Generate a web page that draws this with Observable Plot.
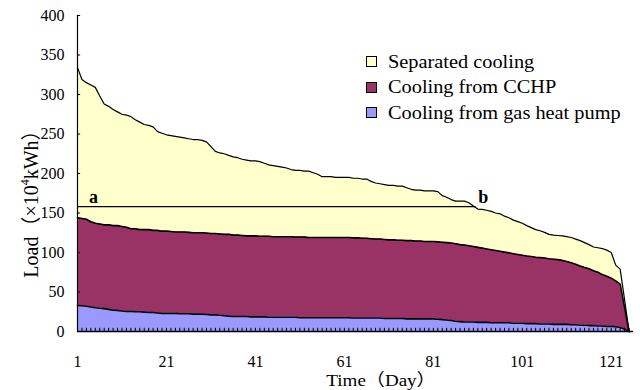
<!DOCTYPE html>
<html>
<head>
<meta charset="utf-8">
<script src="https://cdn.jsdelivr.net/npm/d3@7"></script>
<script src="https://cdn.jsdelivr.net/npm/@observablehq/plot@0.6"></script>
<style>
  html, body { margin: 0; padding: 0; background: #fff; }
  #wrap { position: relative; width: 640px; height: 390px; font-family: "Liberation Serif", "Noto Sans CJK SC", serif; overflow: hidden; }
  #chart svg text { font-family: "Liberation Serif", "Noto Sans CJK SC", serif !important; }
  #legend { position: absolute; left: 366px; top: 49px; font-size: 19px; color: #000; }
  #legend .row { display: flex; align-items: center; height: 25.5px; white-space: nowrap; }
  #legend .sw { width: 9px; height: 9px; border: 1px solid #000; margin-right: 11px; flex: none; }
  #legend .txt { display: inline-block; transform: scaleX(1.07); transform-origin: left center; }
  #ytitle { position: absolute; left: 29px; top: 199px; transform: translate(-50%, -50%) rotate(-90deg); font-size: 20px; white-space: nowrap; }
  #ytitle sup { font-size: 12px; position: relative; top: -1px; }
  #xtitle { position: absolute; left: 381px; top: 380px; transform: translate(-50%, -50%) scaleX(1.12); font-size: 17px; line-height: 17px; white-space: nowrap; }
</style>
</head>
<body>
<div id="wrap">
  <div id="chart"></div>
  <div id="legend"></div>
  <div id="ytitle">Load（×10<sup>4</sup>kWh）</div>
  <div id="xtitle">Time（Day）</div>
</div>
<script>
// ---- data ----
const days = d3.range(1, 126); // day 1 .. 125

// top of the stack: total cooling load
const totalLoad = [334,319,315,312,309,298,288,285,281,278,
  275,274,272,268,265,262,261,259,253,251,
  249,248,247,246,245,244,243,243,242,240,
  234,228,226,225,223,221,220,218,217,216,
  216,215,213,211,210,209,208,207,205,204,
  204,203,203,201,199,196,196,196,195,195,
  195,195,194,194,193,193,190,188,187,186,
  185,185,184,184,182,180,179,179,178,178,
  178,177,172,170,167,165,165,165,163,159,
  155,154.5,153.5,152,150,149,146,144,141,139,
  137,134,131.5,129,127.5,125.5,123,122,121.5,121,
  120,119,117,115,112.5,110,107,106,105,103,
  100,84,79,40,0];

// top of the CCHP layer (gas heat pump + CCHP)
const cchpTopLoad = [144,143,142,139,137,136,135,135,134,134,
  133,132,130,130,129,129,129,128,128,127,
  127,126.5,126,126,126,125.5,125,125,125,124.5,
  124,124,123.5,123,123,122,122,121.5,121,121,
  121,120.5,120.5,120.5,120,120,120,120,120,119.5,
  119.5,119.5,119,119,119,119,119,119,119,119,
  119,119,118.5,118.5,118,118,117.5,117,117,116.5,
  116,116,115.5,115.5,115,115,114.5,114.5,114,114,
  114,113.5,113,112.5,112,111,110,109.5,108.5,107.5,
  106.5,105.5,104.5,103.5,102.5,101.5,100.5,99.5,98.5,97.5,
  96.5,95.5,95,94,93.5,93,92,91.5,91,90,
  88.5,87,85,83,81,79.5,77,75,72,70,
  67.5,64,60,30,0];

// cooling from gas heat pump (bottom layer)
const gasLoad = [33,32.5,32,31,30,29.5,29,28,27,26.5,
  26,25.5,25.5,25,25,24.5,24,24,23.5,23,
  23,23,23,22.5,22.5,22.5,22,22,22,21.5,
  21,21,20.5,20,19.5,19,19,19,19,18.5,
  18.5,18.5,18.5,18,18,18,18,18,18,18,
  17.5,17.5,17.5,17.5,17.5,17.5,17.5,17.5,17.5,17.5,
  17.5,17.5,17,17,17,17,17,17,17,16.5,
  16.5,16.5,16.5,16.5,16,16,16,16,16,16,
  16,15.5,15,14.5,14,13,12.5,12,12,12,
  11.5,11.5,11.5,11,11,11,11,11,10.5,10.5,
  10.5,10,10,10,9.5,9.5,9.5,9,9,9,
  9,8.5,8.5,8,8,7.5,7.5,7,7,6.5,
  6.5,6,5,3,0];

const seriesNames = ["Separated cooling", "Cooling from CCHP", "Cooling from gas heat pump"];
const seriesColors = ["#FFFFCC", "#993366", "#9999FF"];

const xTicks = [1, 21, 41, 61, 81, 101, 121];
const yTicks = [0, 50, 100, 150, 200, 250, 300, 350, 400];

// reference line a–b
const abPoints = [{label: "a", day: 1, load: 158}, {label: "b", day: 90.4, load: 158}];

// ---- table ----
const rows = days.map((d, i) => ({day: d, total: totalLoad[i], cchpTop: cchpTopLoad[i], gas: gasLoad[i]}));

const chart = Plot.plot({
  width: 640,
  height: 390,
  marginLeft: 77,
  marginRight: 7,
  marginTop: 15,
  marginBottom: 59,
  x: {domain: [1, 126]},
  y: {domain: [0, 400]},
  style: {fontFamily: "Liberation Serif, serif", fontSize: "16px", color: "#000", background: "#fff"},
  marks: [
    Plot.areaY(rows, {x: "day", y1: "cchpTop", y2: "total", fill: seriesColors[0]}),
    Plot.areaY(rows, {x: "day", y1: "gas", y2: "cchpTop", fill: seriesColors[1]}),
    Plot.areaY(rows, {x: "day", y1: 0, y2: "gas", fill: seriesColors[2]}),
    Plot.ruleX(days, {x: d => d, y1: 0, y2: 4, stroke: "#000", strokeWidth: 1}),
    Plot.lineY(rows, {x: "day", y: "total", stroke: "#000", strokeWidth: 1.2}),
    Plot.lineY(rows, {x: "day", y: "cchpTop", stroke: "#000", strokeWidth: 1.6}),
    Plot.lineY(rows, {x: "day", y: "gas", stroke: "#000", strokeWidth: 1.6}),
    Plot.line(abPoints, {x: "day", y: "load", stroke: "#000", strokeWidth: 1.2}),
    Plot.text(abPoints.slice(0, 1), {x: "day", y: "load", text: "label", dx: 16, dy: -9, fontWeight: "bold", fontSize: 18}),
    Plot.text(abPoints.slice(1), {x: "day", y: "load", text: "label", dx: 8, dy: -9, fontWeight: "bold", fontSize: 18}),
    Plot.ruleY(yTicks, {y: d => d, x1: 1, x2: 1.7, stroke: "#000"}),
    Plot.ruleY([0], {x1: 1, x2: 126, stroke: "#000", strokeWidth: 1.5}),
    Plot.ruleX([1], {y1: 0, y2: 400, stroke: "#000", strokeWidth: 1.2}),
    Plot.axisX({ticks: xTicks, tickSize: 0, tickPadding: 24, label: null}),
    Plot.axisY({ticks: yTicks, tickSize: 0, tickPadding: 13, label: null})
  ]
});
document.getElementById("chart").appendChild(chart);

// legend
const legend = document.getElementById("legend");
seriesNames.forEach((name, i) => {
  const row = document.createElement("div");
  row.className = "row";
  const sw = document.createElement("span");
  sw.className = "sw";
  sw.style.background = seriesColors[i];
  const t = document.createElement("span");
  t.className = "txt";
  t.textContent = name;
  row.appendChild(sw);
  row.appendChild(t);
  legend.appendChild(row);
});
</script>
</body>
</html>
